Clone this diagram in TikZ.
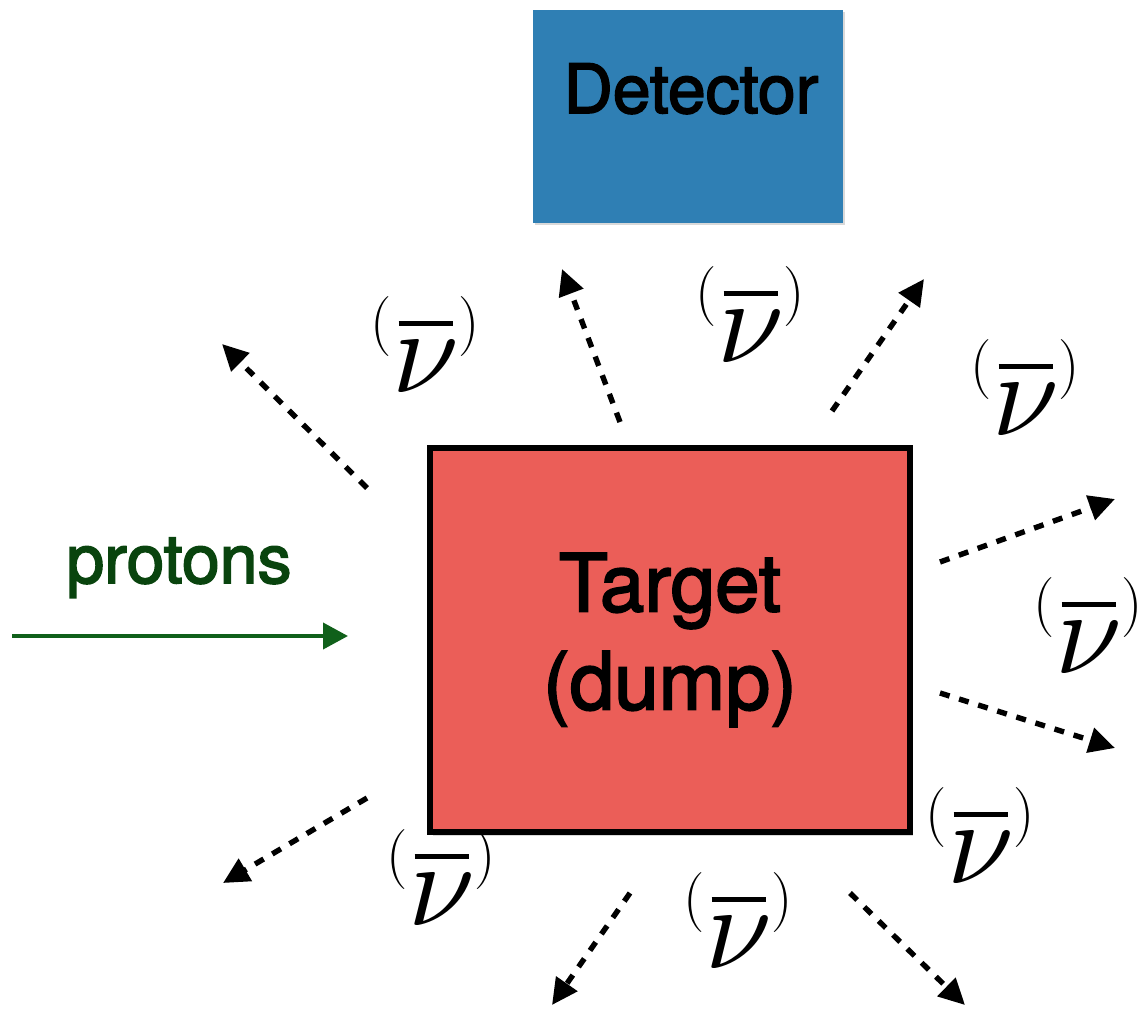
\documentclass[tikz,border=0pt]{standalone}
\usepackage{fontspec}
\usepackage{xcolor}
\usetikzlibrary{arrows.meta,shadows}
\newfontfamily\helv{TeX Gyre Heros}[BoldFont={TeX Gyre Heros},
  BoldFeatures={FakeBold=2.4}]
% scalable math letters for the large labels
\DeclareFontShape{OML}{cmm}{m}{it}{<->cmmi10}{\skewchar\font'177}

\definecolor{detblue}{RGB}{47,127,180}
\definecolor{dumpred}{RGB}{235,94,88}
\definecolor{protext}{RGB}{9,68,14}
\definecolor{proline}{RGB}{16,96,26}

% (anti)neutrino symbol: small raised brackets, bar over a large nu
\newcommand{\nupar}[1]{\raisebox{25.5pt}{\fontsize{30}{30}\selectfont#1}}
\newcommand{\nubar}{\nupar{(}\kern0.5pt%
  \rlap{\kern3pt\rule[33pt]{27pt}{2.6pt}}$\nu$\kern-0.5pt\nupar{)}}

\tikzset{
  detbox/.style={rectangle, fill=detblue, inner sep=0pt,
    minimum width=155pt, minimum height=106.5pt,
    drop shadow={opacity=0.3, shadow xshift=0.8pt, shadow yshift=-1pt}},
  dumpbox/.style={rectangle, draw=black, fill=dumpred, line width=2.6pt,
    minimum width=240pt, minimum height=192pt, align=center,
    font=\helv\bfseries\fontsize{40}{49}\selectfont,
    drop shadow={opacity=0.3, shadow xshift=1.5pt, shadow yshift=-2pt}},
  boxtext/.style={anchor=base, inner sep=0pt,
    font=\helv\bfseries\fontsize{34}{40}\selectfont},
  nuarrow/.style={line width=2.7pt, dash pattern=on 5pt off 5pt,
    -{Triangle[length=13pt,width=12.5pt]}},
  nulabel/.style={anchor=base, inner sep=0pt, font=\fontsize{60}{60}\selectfont},
  beam/.style={draw=proline, line width=2pt, -{Triangle[length=12.5pt,width=13pt]}},
}

\begin{document}
\begin{tikzpicture}[x=0.5pt, y=-0.5pt]
\useasboundingbox (0,0) rectangle (1141,1013);

% detector and target
\node[detbox] (det) at (688,116.5) {};
\node[boxtext] (detname) at (691,113) {Detector};
\node[dumpbox] (dump) at (670,640) {Target\\(dump)};

% incoming beam
\coordinate (beam) at (12,636);
\coordinate (beamtip) at (348,636);
\draw[beam] (beam) -- (beamtip);
\node[boxtext, text=protext] (protons) at (179,583) {protons};

% neutrinos leaving the dump
\foreach \i/\tail/\tip in {1/{367,488}/{222,344}, 2/{620,422}/{562,269},
    3/{832,411}/{924,279}, 4/{940,562}/{1115,499}, 5/{940,693}/{1115,748},
    6/{850,893}/{965,1005}, 7/{630,893}/{552,1005}, 8/{367,798}/{223,883}}{
  \coordinate (nu\i) at (\tail);
  \coordinate (nutip\i) at (\tip);
  \draw[nuarrow] (nu\i) -- (nutip\i);
}

\foreach \j/\pos in {a/{425,392}, b/{750,362}, c/{1025,435}, d/{1088,673},
    e/{980,883}, f/{441,925}, g/{738,968}}
  \node[nulabel] (nulab\j) at (\pos) {\nubar};
\end{tikzpicture}
\end{document}
